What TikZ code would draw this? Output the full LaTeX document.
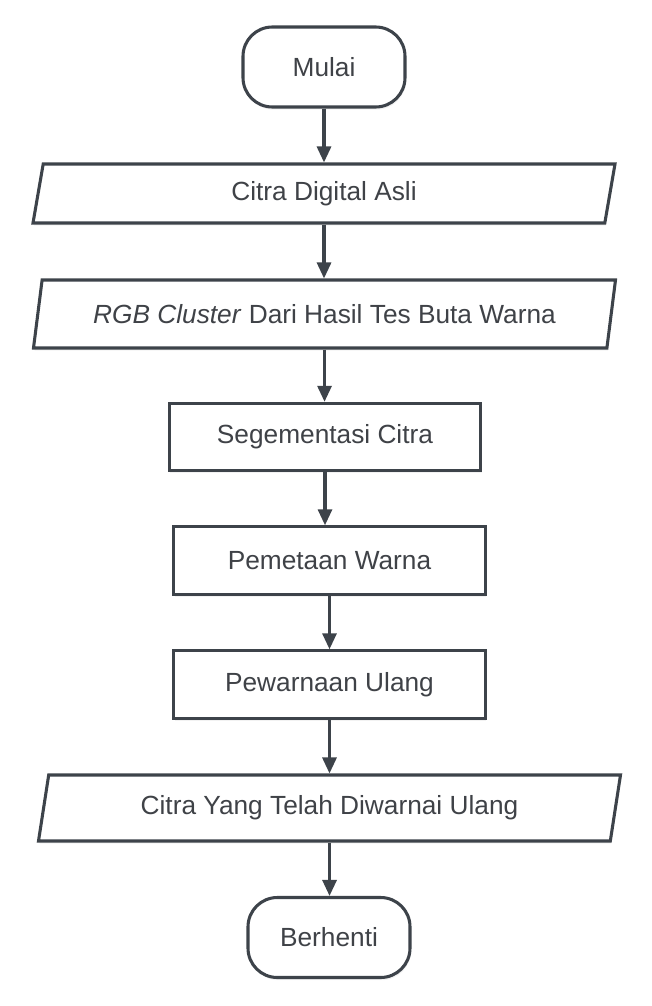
\documentclass[tikz,border=0pt]{standalone}
\usepackage{fontspec}
\setmainfont{Liberation Sans}
\usetikzlibrary{shapes.geometric, shadows, arrows.meta}

\definecolor{garis}{HTML}{3D434A}
\definecolor{teks}{HTML}{3F4247}

\begin{document}
\begin{tikzpicture}[x=0.75pt, y=-0.75pt,
    font=\fontsize{19.7}{23}\selectfont, text=teks,
    kotak/.style={draw=garis, fill=white, line width=2.3pt, align=center,
      drop shadow={opacity=0.10, shadow xshift=0.8pt, shadow yshift=-2pt}},
    terminal/.style={kotak, rounded corners=22pt, minimum width=121.5pt, minimum height=60pt},
    proses/.style={kotak, minimum width=233.5pt, minimum height=50.5pt},
    data/.style={kotak, trapezium, trapezium stretches body=true,
      trapezium left angle=73, trapezium right angle=107,
      minimum width=436.5pt},
    panah/.style={draw=garis, line width=2.3pt, -{Triangle[width=10.5pt, length=12pt]}}]
    \useasboundingbox (0,0) rectangle (651,1006);

    \node[terminal]                        (mulai)  at (324.0,  67.0)  {Mulai};
    \node[data, minimum height=44.25pt]    (citra)  at (324.0, 193.5)  {Citra Digital Asli};
    \node[data, minimum height=51pt]       (rgb)    at (324.5, 314.0)  {\textit{RGB Cluster} Dari Hasil Tes Buta Warna};
    \node[proses]                          (segmen) at (325.0, 437.0)  {Segementasi Citra};
    \node[proses]                          (peta)   at (329.5, 560.5)  {Pemetaan Warna};
    \node[proses]                          (ulang)  at (329.5, 684.5)  {Pewarnaan Ulang};
    \node[data, minimum height=49.5pt]     (hasil)  at (329.5, 808.0)  {Citra Yang Telah Diwarnai Ulang};
    \node[terminal]                        (henti)  at (329.0, 937.5)  {Berhenti};

    \draw[panah] (mulai.south)  -- (mulai.south  |- citra.north);
    \draw[panah] (citra.south)  -- (citra.south  |- rgb.north);
    \draw[panah] (rgb.south)    -- (rgb.south    |- segmen.north);
    \draw[panah] (segmen.south) -- (segmen.south |- peta.north);
    \draw[panah] (peta.south)   -- (peta.south   |- ulang.north);
    \draw[panah] (ulang.south)  -- (ulang.south  |- hasil.north);
    \draw[panah] (hasil.south)  -- (hasil.south  |- henti.north);
\end{tikzpicture}
\end{document}
